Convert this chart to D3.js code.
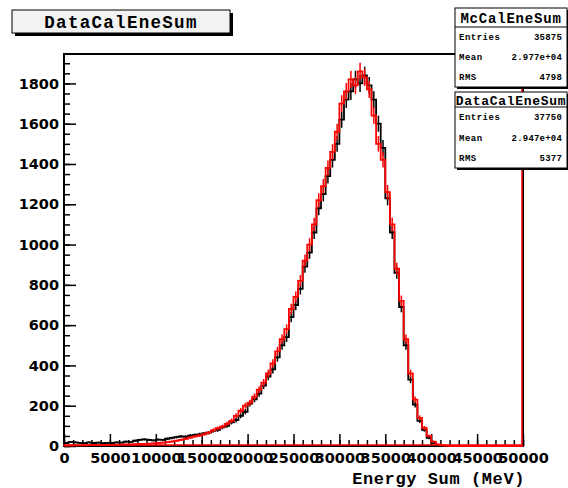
<!DOCTYPE html>
<html>
<head>
<meta charset="utf-8">
<script src="https://cdn.jsdelivr.net/npm/d3@7"></script>
<style>
  body { margin: 0; background: #fff; }
  svg { display: block; }
  .tick text { font-family: "DejaVu Sans", sans-serif; font-weight: bold; font-size: 14.5px; fill: #000; }
  .mono { font-family: "Liberation Mono", "Courier New", monospace; font-weight: bold; fill: #000; }
</style>
</head>
<body>
<div id="chart"></div>
<script>
// bin width 500 MeV, 100 bins from 0 to 50000
var binWidth = 500;

// DataCalEneSum (black)
var dataCounts = [
  15, 20, 18, 16, 14, 18, 15, 17, 14, 16,
  15, 18, 17, 22, 20, 26, 30, 33, 30, 28,
  32, 30, 36, 40, 44, 48, 46, 52, 55, 58,
  62, 66, 75, 80, 92, 100, 118, 128, 150, 170,
  210, 232, 260, 300, 345, 380, 440, 500, 540, 640,
  700, 780, 890, 960, 1060, 1180, 1250, 1340, 1420, 1500,
  1620, 1720, 1760, 1820, 1800, 1840, 1790, 1720, 1600, 1480,
  1230, 1060, 860, 690, 500, 330, 205, 125, 80, 40,
  15, 5, 2, 1, 0, 0, 0, 0, 0, 0,
  0, 0, 0, 0, 0, 0, 0, 0, 0, 0
];

// McCalEneSum (red)
var mcCounts = [
  2, 2, 3, 3, 3, 4, 4, 5, 5, 6,
  6, 7, 7, 8, 8, 9, 10, 11, 12, 13,
  15, 17, 19, 22, 26, 30, 36, 42, 48, 52,
  58, 66, 78, 88, 96, 110, 125, 150, 175, 200,
  215, 245, 280, 315, 360, 410, 470, 530, 580, 680,
  740, 820, 920, 1000, 1100, 1220, 1290, 1380, 1460, 1560,
  1700, 1760, 1820, 1790, 1860, 1830, 1770, 1640, 1500, 1420,
  1260, 1100, 880, 720, 530, 360, 230, 140, 90, 50,
  22, 8, 3, 1, 0, 0, 0, 0, 0, 0,
  0, 0, 0, 0, 0, 0, 0, 0, 0, 0
];

var xTicks = d3.range(0, 50001, 5000);
var xMinor = d3.range(0, 50001, 1000);
var yTicks = d3.range(0, 1801, 200);
var yMinor = d3.range(0, 1901, 50);

var statsMc = [["Entries", "35875"], ["Mean", "2.977e+04"], ["RMS", "4798"]];
var statsData = [["Entries", "37750"], ["Mean", "2.947e+04"], ["RMS", "5377"]];

var width = 568, height = 488;
var svg = d3.select("#chart").append("svg")
    .attr("width", width).attr("height", height);

var x = d3.scaleLinear().domain([0, 50000]).range([64, 523]);
var y = d3.scaleLinear().domain([0, 1946]).range([446, 54]);

// axes
svg.append("g")
    .attr("transform", "translate(0," + y(0) + ")")
    .call(d3.axisBottom(x).tickValues(xMinor).tickSize(-6).tickFormat(""))
    .call(function (g) { g.select(".domain").remove(); });
svg.append("g")
    .attr("transform", "translate(0," + y(0) + ")")
    .call(d3.axisBottom(x).tickValues(xTicks).tickSize(-12).tickPadding(5).tickFormat(d3.format("d")))
    .call(function (g) {
        g.select(".domain").remove();
        g.selectAll("text").attr("dy", "0.71em").attr("y", 7);
    });
svg.append("g")
    .attr("transform", "translate(" + x(0) + ",0)")
    .call(d3.axisLeft(y).tickValues(yMinor).tickSize(-6).tickFormat(""))
    .call(function (g) { g.select(".domain").remove(); });
svg.append("g")
    .attr("transform", "translate(" + x(0) + ",0)")
    .call(d3.axisLeft(y).tickValues(yTicks).tickSize(-12).tickPadding(5).tickFormat(d3.format("d")))
    .call(function (g) {
        g.select(".domain").remove();
        g.selectAll("text").attr("x", -5);
    });
svg.selectAll(".tick line").attr("stroke", "#000").attr("stroke-width", 1.5);

// frame
svg.append("rect")
    .attr("x", x(0)).attr("y", y(1946))
    .attr("width", x(50000) - x(0)).attr("height", y(0) - y(1946))
    .attr("fill", "none").attr("stroke", "#000").attr("stroke-width", 2);

function stepPoints(counts) {
    var pts = [[0, 0]];
    counts.forEach(function (v, i) {
        pts.push([i * binWidth, v]);
        pts.push([(i + 1) * binWidth, v]);
    });
    pts.push([50000, 0]);
    return pts;
}

var line = d3.line()
    .x(function (d) { return x(d[0]); })
    .y(function (d) { return y(d[1]); });

function drawHist(counts, color) {
    var g = svg.append("g");
    g.append("path")
        .attr("d", line(stepPoints(counts)))
        .attr("fill", "none")
        .attr("stroke", color)
        .attr("stroke-width", 1.8);
    g.selectAll("line.err")
        .data(counts.map(function (v, i) { return {v: v, i: i}; })
            .filter(function (d) { return d.v > 0; }))
        .enter().append("line")
        .attr("class", "err")
        .attr("x1", function (d) { return x((d.i + 0.5) * binWidth); })
        .attr("x2", function (d) { return x((d.i + 0.5) * binWidth); })
        .attr("y1", function (d) { return y(d.v - Math.sqrt(d.v)); })
        .attr("y2", function (d) { return y(d.v + Math.sqrt(d.v)); })
        .attr("stroke", color)
        .attr("stroke-width", 1.5);
}

drawHist(dataCounts, "#000");
drawHist(mcCounts, "#ff0000");

// red edge along bottom and right of the frame
svg.append("path")
    .attr("d", "M" + x(0) + "," + (y(0) - 1) + "H" + (x(50000) - 1) + "V" + y(1946))
    .attr("fill", "none").attr("stroke", "#ff0000").attr("stroke-width", 1.5);

// title box
svg.append("rect").attr("x", 15).attr("y", 13).attr("width", 218).attr("height", 23).attr("fill", "#000");
svg.append("rect").attr("x", 12).attr("y", 10).attr("width", 218).attr("height", 23)
    .attr("fill", "#f2f2f2").attr("stroke", "#000").attr("stroke-width", 1);
svg.append("text").attr("class", "mono")
    .attr("x", 121).attr("y", 22).attr("dy", "0.35em")
    .attr("text-anchor", "middle")
    .style("font-size", "17.5px").style("letter-spacing", "1.3px")
    .text("DataCalEneSum");

function statsBox(top, h, titleH, title, rows, titleSize, titleSpacing) {
    var left = 455, w = 112;
    svg.append("rect").attr("x", left + 2).attr("y", top + 2).attr("width", w).attr("height", h).attr("fill", "#000");
    svg.append("rect").attr("x", left).attr("y", top).attr("width", w).attr("height", h)
        .attr("fill", "#fff").attr("stroke", "#000").attr("stroke-width", 1);
    svg.append("line").attr("x1", left).attr("x2", left + w)
        .attr("y1", top + titleH).attr("y2", top + titleH)
        .attr("stroke", "#000").attr("stroke-width", 1);
    svg.append("text").attr("class", "mono")
        .attr("x", left + w / 2).attr("y", top + titleH / 2 + 0.5).attr("dy", "0.35em")
        .attr("text-anchor", "middle")
        .style("font-size", titleSize + "px").style("letter-spacing", titleSpacing + "px")
        .text(title);
    var rowH = (h - titleH) / rows.length;
    rows.forEach(function (r, i) {
        var cy = top + titleH + rowH * (i + 0.5);
        svg.append("text").attr("class", "mono")
            .attr("x", left + 4).attr("y", cy).attr("dy", "0.35em")
            .style("font-size", "9px").style("letter-spacing", "0.5px")
            .text(r[0]);
        svg.append("text").attr("class", "mono")
            .attr("x", left + w - 5).attr("y", cy).attr("dy", "0.35em")
            .attr("text-anchor", "end")
            .style("font-size", "9px").style("letter-spacing", "0.2px")
            .text(r[1]);
    });
}

statsBox(8, 79, 19, "McCalEneSum", statsMc, 14, 0.8);
statsBox(92, 76, 15, "DataCalEneSum", statsData, 13, 0.7);

// axis title
svg.append("text").attr("class", "mono")
    .attr("x", 525).attr("y", 478).attr("dy", "0.35em")
    .attr("text-anchor", "end")
    .style("font-size", "17px").style("letter-spacing", "0.6px")
    .text("Energy Sum (MeV)");
</script>
</body>
</html>
